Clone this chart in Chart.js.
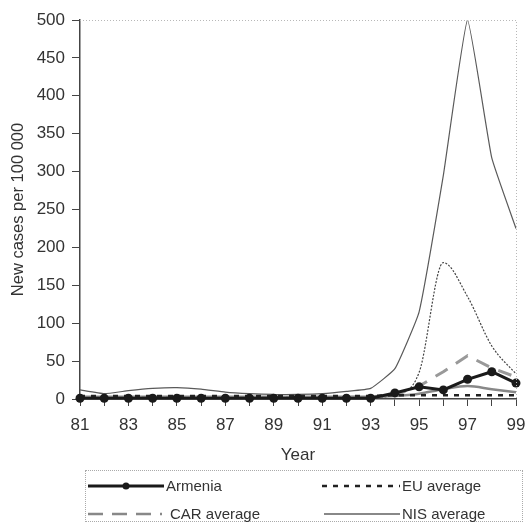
<!DOCTYPE html>
<html>
<head>
<meta charset="utf-8">
<script src="https://cdn.jsdelivr.net/npm/chart.js@4.4.0/dist/chart.umd.min.js"></script>
<style>
  html, body { margin: 0; padding: 0; background: #fff; }
  #wrap { position: relative; width: 528px; height: 527px; }
  #legend {
    position: absolute; left: 85px; top: 470px; width: 438px; height: 52px;
    border: 1px dotted #aaa; box-sizing: border-box;
    font-family: "Liberation Sans", Arial, sans-serif; font-size: 15px; color: #333;
  }
  .item { position: absolute; height: 18px; line-height: 18px; }
  .item svg { position: absolute; left: 0; top: 0; }
  .item span { position: absolute; top: 0; white-space: nowrap; }
</style>
</head>
<body>
<div id="wrap">
  <canvas id="chart" width="528" height="527"></canvas>
  <div id="legend"></div>
</div>
<script>
var years = ['81','82','83','84','85','86','87','88','89','90','91','92','93','94','95','96','97','98','99'];

var armenia    = [1, 1, 1, 1, 1, 1, 1, 1, 1, 1, 1, 1, 1, 8, 16, 12, 26, 36, 21];
var euAverage  = [4, 4, 4, 4, 4, 4, 4, 4, 4, 4, 4, 4, 4, 5, 5, 5, 5, 5, 5];
var carAverage = [2, 2, 2, 2, 2, 2, 2, 2, 2, 2, 2, 2, 3, 5, 17, 36, 57, 41, 29];
var nisAverage = [3, 3, 3, 3, 3, 3, 3, 3, 3, 3, 3, 3, 3, 4, 7, 13, 17, 13, 9];
// two more country lines drawn in the source without a legend entry
var otherHigh  = [12, 7, 11, 14, 15, 13, 9, 7, 6, 6, 7, 10, 14, 40, 115, 295, 500, 318, 225];
var otherMid   = [2, 2, 2, 2, 2, 2, 2, 2, 2, 2, 2, 2, 2, 6, 35, 180, 135, 70, 33];

var yTicks = { min: 0, max: 500, step: 50 };

var font = "'Liberation Sans', Arial, sans-serif";
var ink = '#333';

var frame = {
  id: 'frame',
  afterDraw: function(chart) {
    var a = chart.chartArea, c = chart.ctx;
    c.save();
    c.strokeStyle = '#b8b8b8';
    c.lineWidth = 1;
    c.setLineDash([1, 2]);
    c.beginPath();
    c.moveTo(a.left, a.top + 0.5);
    c.lineTo(a.right + 0.5, a.top + 0.5);
    c.lineTo(a.right + 0.5, a.bottom);
    c.stroke();
    c.restore();
  }
};

// first dataset ends up on top in Chart.js, so Armenia goes first
new Chart(document.getElementById('chart'), {
  type: 'line',
  data: {
    labels: years,
    datasets: [
      { label: 'Armenia', data: armenia, borderColor: '#1a1a1a', borderWidth: 3, clip: false,
        pointRadius: 4.5, pointBackgroundColor: '#1a1a1a', pointBorderWidth: 0, tension: 0 },
      { label: 'EU average', data: euAverage, borderColor: '#222', borderWidth: 2.5,
        borderDash: [5, 6], pointRadius: 0, tension: 0 },
      { label: 'CAR average', data: carAverage, borderColor: '#999', borderWidth: 3,
        borderDash: [14, 10], pointRadius: 0, tension: 0 },
      { label: 'NIS average', data: nisAverage, borderColor: '#888', borderWidth: 2.5,
        pointRadius: 0, cubicInterpolationMode: 'monotone' },
      { label: '', data: otherHigh, borderColor: '#5a5a5a', borderWidth: 1.2,
        pointRadius: 0, tension: 0.12 },
      { label: '', data: otherMid, borderColor: '#444', borderWidth: 1.2,
        borderDash: [2, 1.5], pointRadius: 0, cubicInterpolationMode: 'monotone' }
    ]
  },
  options: {
    responsive: false,
    animation: false,
    layout: { padding: { top: 20, right: 12, bottom: 60, left: 0 } },
    plugins: { legend: { display: false }, tooltip: { enabled: false } },
    scales: {
      x: {
        offset: false,
        grid: { drawOnChartArea: false, tickLength: 7, color: '#444' },
        border: { color: '#444', width: 1.5 },
        ticks: {
          autoSkip: false, maxRotation: 0, padding: 9, color: ink,
          font: { family: font, size: 17 },
          callback: function(v, i) { return i % 2 === 0 ? years[i] : ''; }
        },
        title: { display: true, text: 'Year', color: ink, font: { family: font, size: 17 },
                 padding: { top: 5, bottom: 1 } },
        afterFit: function(s) { s.height = 68; s.paddingRight = 0; }
      },
      y: {
        min: yTicks.min, max: yTicks.max,
        grid: { drawOnChartArea: false, tickLength: 8, color: '#444' },
        border: { color: '#444', width: 1.5 },
        ticks: { stepSize: yTicks.step, padding: 7, color: ink, font: { family: font, size: 17 } },
        title: { display: true, text: 'New cases per 100 000', color: ink,
                 font: { family: font, size: 16.5 }, padding: { top: 9, bottom: 0 } },
        afterFit: function(s) { s.width = 80; }
      }
    }
  },
  plugins: [frame]
});

// legend laid out like the source: two columns, two rows
var legendItems = [
  { text: 'Armenia',     x: 2,   y: 6,  w: 76, stroke: '#1a1a1a', width: 3,   dash: '',      dot: true,  gap: 2 },
  { text: 'EU average',  x: 236, y: 6,  w: 78, stroke: '#222',    width: 2.5, dash: '5 6',   dot: false, gap: 2 },
  { text: 'CAR average', x: 2,   y: 34, w: 74, stroke: '#888',    width: 2.5, dash: '15 9',  dot: false, gap: 8 },
  { text: 'NIS average', x: 238, y: 34, w: 76, stroke: '#888',    width: 2,   dash: '',      dot: false, gap: 2 }
];
var legend = document.getElementById('legend');
legendItems.forEach(function(it) {
  var d = document.createElement('div');
  d.className = 'item';
  d.style.left = it.x + 'px';
  d.style.top = it.y + 'px';
  var svg = '<svg width="' + it.w + '" height="18"><line x1="0" y1="9" x2="' + it.w + '" y2="9" stroke="' +
    it.stroke + '" stroke-width="' + it.width + '"' + (it.dash ? ' stroke-dasharray="' + it.dash + '"' : '') + '/>' +
    (it.dot ? '<circle cx="' + (it.w / 2) + '" cy="9" r="3.5" fill="' + it.stroke + '"/>' : '') + '</svg>';
  d.innerHTML = svg + '<span style="left:' + (it.w + it.gap) + 'px">' + it.text + '</span>';
  legend.appendChild(d);
});
</script>
</body>
</html>
